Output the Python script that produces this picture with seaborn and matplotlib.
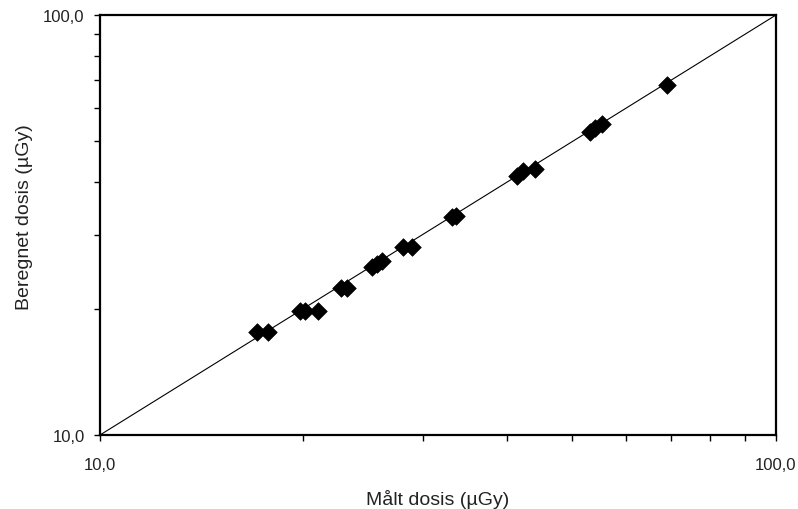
import pandas as pd
import matplotlib
matplotlib.use("Agg")
import matplotlib.pyplot as plt
import matplotlib.ticker as mticker
import seaborn as sns

# Målt og beregnet dosis (µGy)
maalt = [17.05, 17.70, 19.77, 20.11, 21.03, 22.73, 23.17, 25.23, 25.66, 26.10,
         28.10, 28.91, 33.17, 33.62, 41.43, 42.29, 44.00, 53.08, 53.98, 55.22, 68.92]
beregnet = [17.62, 17.62, 19.77, 19.77, 19.77, 22.39, 22.39, 25.16, 25.53, 26.00,
            28.07, 27.98, 32.98, 33.22, 41.40, 42.60, 42.99, 52.74, 53.73, 55.02, 68.23]
identitet = [10, 100]
tick_verdier = [10, 100]

df = pd.DataFrame({"maalt": maalt, "beregnet": beregnet})

sns.set_style("white")
plt.rcParams["font.family"] = ["Liberation Sans", "DejaVu Sans"]

fig = plt.figure(figsize=(7.98, 5.10), dpi=100)
ax = fig.add_axes([0.1253, 0.1451, 0.8471, 0.8235])

ax.plot(identitet, identitet, color="black", lw=0.8, zorder=1)
sns.scatterplot(data=df, x="maalt", y="beregnet", marker="D", s=80,
                color="black", edgecolor="black", linewidth=0.5, ax=ax, zorder=3)

ax.set_xscale("log")
ax.set_yscale("log")
ax.set_xlim(10, 100)
ax.set_ylim(10, 100)

fmt = mticker.FuncFormatter(lambda v, p: f"{v:.1f}".replace(".", ","))
ax.xaxis.set_major_locator(mticker.FixedLocator(tick_verdier))
ax.yaxis.set_major_locator(mticker.FixedLocator(tick_verdier))
ax.xaxis.set_major_formatter(fmt)
ax.yaxis.set_major_formatter(fmt)
ax.xaxis.set_minor_locator(mticker.LogLocator(base=10, subs=range(2, 10)))
ax.yaxis.set_minor_locator(mticker.LogLocator(base=10, subs=range(2, 10)))
ax.xaxis.set_minor_formatter(mticker.NullFormatter())
ax.yaxis.set_minor_formatter(mticker.NullFormatter())

ax.tick_params(axis="both", which="both", direction="out", length=4, width=1,
               color="black", labelsize=12, labelcolor="#222222")
ax.tick_params(axis="x", which="major", pad=12)
ax.tick_params(axis="y", which="major", pad=7)
ax.tick_params(bottom=True, left=True, which="both")

for side in ax.spines.values():
    side.set_linewidth(1.6)
    side.set_color("black")

ax.set_xlabel("Målt dosis (µGy)", fontsize=14, color="#222222")
ax.set_ylabel("Beregnet dosis (µGy)", fontsize=14, color="#222222")
ax.xaxis.set_label_coords(0.5, -0.128)
ax.yaxis.set_label_coords(-0.099, 0.521)

fig.savefig("out.png", dpi=100)
